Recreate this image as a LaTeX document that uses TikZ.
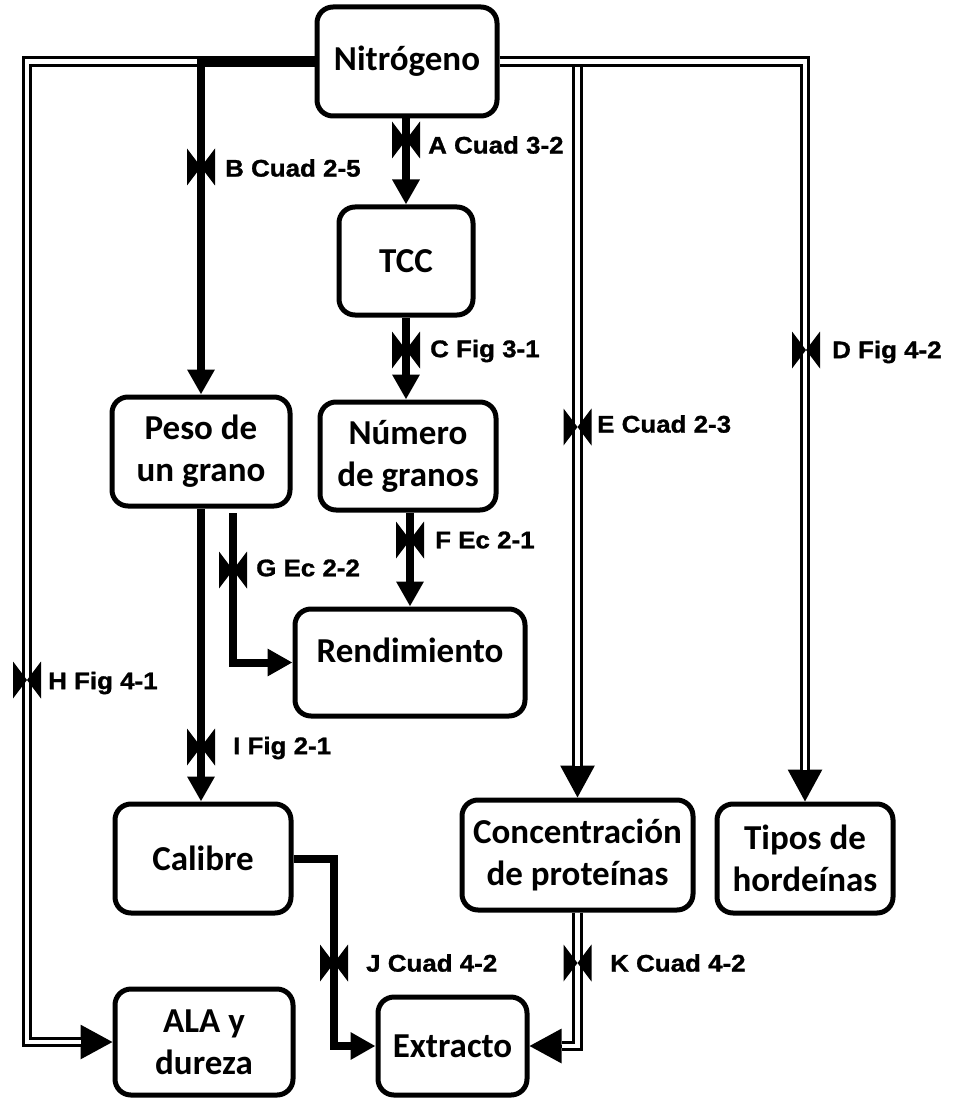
\documentclass[tikz,border=0pt]{standalone}
\usepackage{fontspec}
\setmainfont{Carlito}
\newfontfamily\labfont[FakeStretch=1.08,FakeBold=1.2]{Liberation Sans}
\usetikzlibrary{arrows.meta,calc}
\begin{document}
\begin{tikzpicture}[x=1pt,y=-1pt,
  box/.style={draw, line width=5pt, rounded corners=16pt, align=center,
    font=\bfseries\fontsize{35}{42}\selectfont, inner sep=0pt},
  thkarrow/.style={line width=8pt, -{Triangle[width=26pt,length=25pt]}},
  dbl/.style={double, double distance=4.5pt, line width=3.2pt},
  dblhead/.style={line width=3pt, -{Triangle[width=34pt,length=32pt]}},
  lab/.style={anchor=west, inner sep=0pt,
    font={\labfont\bfseries\fontsize{24}{26}\selectfont}},
  bowtie/.pic={
    \fill (-14,-18.5) -- (0,0) -- (-14,18.5) -- cycle;
    \fill (14,-18.5) -- (0,0) -- (14,18.5) -- cycle;}
]
\fill[white] (0,0) rectangle (952,1099);
\useasboundingbox (0,0) rectangle (952,1099);

% boxes
\node[box, minimum width=180pt, minimum height=109pt] (nitro) at (407,61.5) {Nitrógeno};
\node[box, minimum width=134pt, minimum height=108pt] (tcc) at (406,261) {TCC};
\node[box, minimum width=178pt, minimum height=109pt] (peso) at (201,451.5) {Peso de\\un grano};
\node[box, minimum width=176pt, minimum height=108pt] (num) at (408,456) {Número\\de granos};
\node[box, minimum width=230pt, minimum height=107pt, text height=26pt, text depth=27pt] (rend) at (410,662.5) {Rendimiento};
\node[box, minimum width=176pt, minimum height=109pt] (cal) at (203,858.5) {Calibre};
\node[box, minimum width=231pt, minimum height=110pt] (conc) at (577.5,855) {Concentración\\de proteínas};
\node[box, minimum width=176pt, minimum height=109pt] (tipos) at (805,858.5) {Tipos de\\hordeínas};
\node[box, minimum width=178pt, minimum height=106pt] (ala) at (204,1042) {ALA y\\dureza};
\node[box, minimum width=149pt, minimum height=98pt] (ext) at (452.5,1046) {Extracto};

% helper coordinates
\coordinate (hc) at (27,61.5);
\coordinate (ec) at ($(conc.north |- nitro.east)+(0,5.4)$);
\coordinate (gs) at (233,513);
\coordinate (jc) at (334,858.5);

% double connectors (drawn first)
\draw[dblhead] (hc) |- (ala.west);
\draw[dbl, shorten >=32pt] (nitro.west) -- (hc) |- (ala.west);
\draw[dblhead] (nitro.east) -| (tipos.north);
\draw[dbl, shorten >=32pt] (nitro.east) -| (tipos.north);
\draw[dblhead] (ec) -- (conc.north);
\draw[dbl, shorten >=32pt] (ec) -- (conc.north);
\draw[dblhead] (conc.south) |- (ext.east);
\draw[dbl, shorten >=32pt] (conc.south) |- (ext.east);

% thick connectors
\draw[thkarrow] (nitro.west) -| (peso.north);
\draw[thkarrow] (tcc.north |- nitro.south) -- (tcc.north);
\draw[thkarrow] (tcc.south) -- (tcc.south |- num.north);
\draw[thkarrow] (rend.north |- num.south) -- (rend.north);
\draw[thkarrow] (gs) |- (rend.west);
\draw[thkarrow] (peso.south) -- (peso.south |- cal.north);
\draw[thkarrow] (cal.east) -- (jc) |- (ext.west);

% bowtie markers
\pic at (406,140) {bowtie};
\pic at (201,167) {bowtie};
\pic at (406,350) {bowtie};
\pic at (806,350) {bowtie};
\pic at (577.5,427) {bowtie};
\pic at (410,540) {bowtie};
\pic at (233,570) {bowtie};
\pic at (27,680) {bowtie};
\pic at (201,747) {bowtie};
\pic at (334,963) {bowtie};
\pic at (577.5,963) {bowtie};

% labels
\node[lab] (la) at (428,145) {A Cuad 3-2};
\node[lab] (lb) at (225,168) {B Cuad 2-5};
\node[lab] (lc) at (430,351) {C Fig 3-1};
\node[lab] (ld) at (832,352) {D Fig 4-2};
\node[lab] (le) at (597,424) {E Cuad 2-3};
\node[lab] (lf) at (435,540) {F Ec 2-1};
\node[lab] (lg) at (256,568) {G Ec 2-2};
\node[lab] (lh) at (48,683) {H Fig 4-1};
\node[lab] (li) at (233,748) {I Fig 2-1};
\node[lab] (lj) at (366,963) {J Cuad 4-2};
\node[lab] (lk) at (610,963) {K Cuad 4-2};
\end{tikzpicture}
\end{document}
